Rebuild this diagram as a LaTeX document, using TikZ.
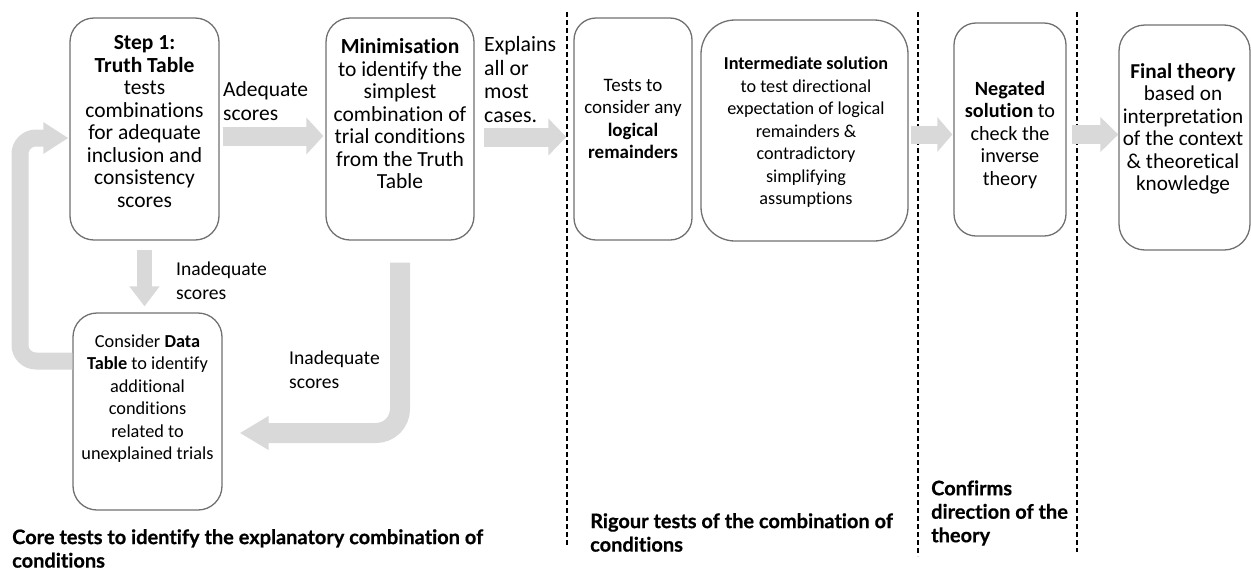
\documentclass[tikz,border=0pt]{standalone}
\usepackage{fontspec}
\setmainfont{Carlito}[Ligatures=NoCommon]
\newfontfamily\headfont{Lato}[Ligatures=NoCommon, BoldFeatures={FakeBold=0.6}]
\usetikzlibrary{arrows.meta}
\definecolor{arr}{HTML}{D9D9D9}
\definecolor{bord}{HTML}{707070}
\begin{document}
\begin{tikzpicture}[x=1pt,y=-1pt,
  box/.style={draw=bord, line width=1.3pt, inner sep=0pt, rounded corners=#1},
  box/.default=24pt,
  txt/.style={align=center, inner sep=0pt, font=\fontsize{#1}{22.5}\selectfont},
  txt/.default=21.5,
  lbl/.style={align=left, inner sep=0pt, anchor=west, font=\fontsize{#1}{23.5}\selectfont},
  lbl/.default=21.5,
  headtxt/.style={align=left, inner sep=0pt, anchor=west, font=\headfont\bfseries\fontsize{20}{23.5}\selectfont},
  blk/.style={draw=arr, line width=#1},
  sep/.style={dash pattern=on 5pt off 3pt, line width=1.1pt}
]
\useasboundingbox (0,0) rectangle (1251,571);

% dashed separators
\draw[sep] (567,12) -- (567,545);
\draw[sep] (918,12) -- (918,556);
\draw[sep] (1077,12) -- (1077,552);

% boxes
\node[box, minimum width=149pt, minimum height=222pt] (b1) at (144.5,129) {};
\node[box, minimum width=148pt, minimum height=222pt] (b2) at (400,129) {};
\node[box=22pt, minimum width=118pt, minimum height=222pt] (b3) at (633,129) {};
\node[box=34pt, minimum width=207pt, minimum height=221pt] (b4) at (804.5,130.5) {};
\node[box=22pt, minimum width=112pt, minimum height=213pt] (b5) at (1010,129.5) {};
\node[box=26pt, minimum width=131pt, minimum height=225pt] (b6) at (1184.5,137.5) {};
\node[box, minimum width=149pt, minimum height=197pt] (b7) at (147.5,411.5) {};

% box texts
\node[txt] (t1) at (144.5,121.5) {\textbf{Step 1:}\\\textbf{Truth Table}\\tests\\combinations\\for adequate\\inclusion and\\consistency\\scores};
\node[txt] (t2) at (400,114) {\textbf{Minimisation}\\to identify the\\simplest\\combination of\\trial conditions\\from the Truth\\Table};
\node[txt=19] (t3) at (633,119) {Tests to\\consider any\\\textbf{logical}\\\textbf{remainders}};
\node[txt=18.2] (t4) at (806,132.5) {\textbf{Intermediate solution}\\to test directional\\expectation of logical\\remainders \&\\contradictory\\simplifying\\assumptions};
\node[txt=20.2] (t5) at (1010,135) {\textbf{Negated}\\\textbf{solution} to\\check the\\inverse\\theory};
\node[txt=21.2] (t6) at (1183,129) {\textbf{Final theory}\\based on\\interpretation\\of the context\\\& theoretical\\knowledge};
\node[txt=18.3] (t7) at (147.5,398.5) {Consider \textbf{Data}\\\textbf{Table} to identify\\additional\\conditions\\related to\\unexplained trials};

% block arrows
\draw[blk=19pt, -{Triangle[length=17pt,width=36pt]}, shorten <=3pt, shorten >=2pt]
  ([yshift=-7pt]b1.east) -- ([yshift=-7pt]b1.east -| b2.west);
\draw[blk=19pt, -{Triangle[length=18pt,width=36pt]}, shorten <=9pt, shorten >=7pt]
  ([yshift=-8pt]b2.east) -- ([yshift=-8pt]b2.east -| b3.west);
\draw[blk=18pt, -{Triangle[length=15pt,width=34pt]}, shorten <=2pt, shorten >=1pt]
  ([yshift=-4pt]b4.east) -- ([yshift=-4pt]b4.east -| b5.west);
\draw[blk=19pt, -{Triangle[length=18pt,width=34pt]}, shorten <=5pt, shorten >=0pt]
  ([yshift=-5pt]b5.east) -- ([yshift=-5pt]b5.east -| b6.west);
\draw[blk=15pt, -{Triangle[length=20pt,width=29pt]}, shorten <=9pt, shorten >=6pt]
  (b1.south) -- (b1.south |- b7.north);
\draw[blk=20pt, -{Triangle[length=29pt,width=32pt]}, rounded corners=24pt]
  ([yshift=-22pt]b2.south) |- ([xshift=17pt,yshift=-21.5pt]b7.east);
\coordinate (lp1) at (20,361);
\coordinate (lp2) at (20,138);
\draw[blk=17pt, -{Triangle[length=25pt,width=30pt]}, rounded corners=16pt]
  ([yshift=50.5pt]b7.west) -- (lp1) -- (lp2) -- ([xshift=-1pt,yshift=-9pt]b1.west);

% labels
\node[lbl] (l1) at (223,101) {Adequate\\scores};
\node[lbl=21.8] (l2) at (484,79.5) {Explains\\all or\\most\\cases.};
\node[lbl=19.6] (l3) at (176,281) {Inadequate\\scores};
\node[lbl=19.6] (l4) at (289,370) {Inadequate\\scores};

% section captions
\node[headtxt] (h1) at (12,548.5) {Core tests to identify the explanatory combination of\\conditions};
\node[headtxt] (h2) at (590,532.5) {Rigour tests of the combination of\\conditions};
\node[headtxt] (h3) at (931,513) {Confirms\\direction of the\\theory};
\end{tikzpicture}
\end{document}
